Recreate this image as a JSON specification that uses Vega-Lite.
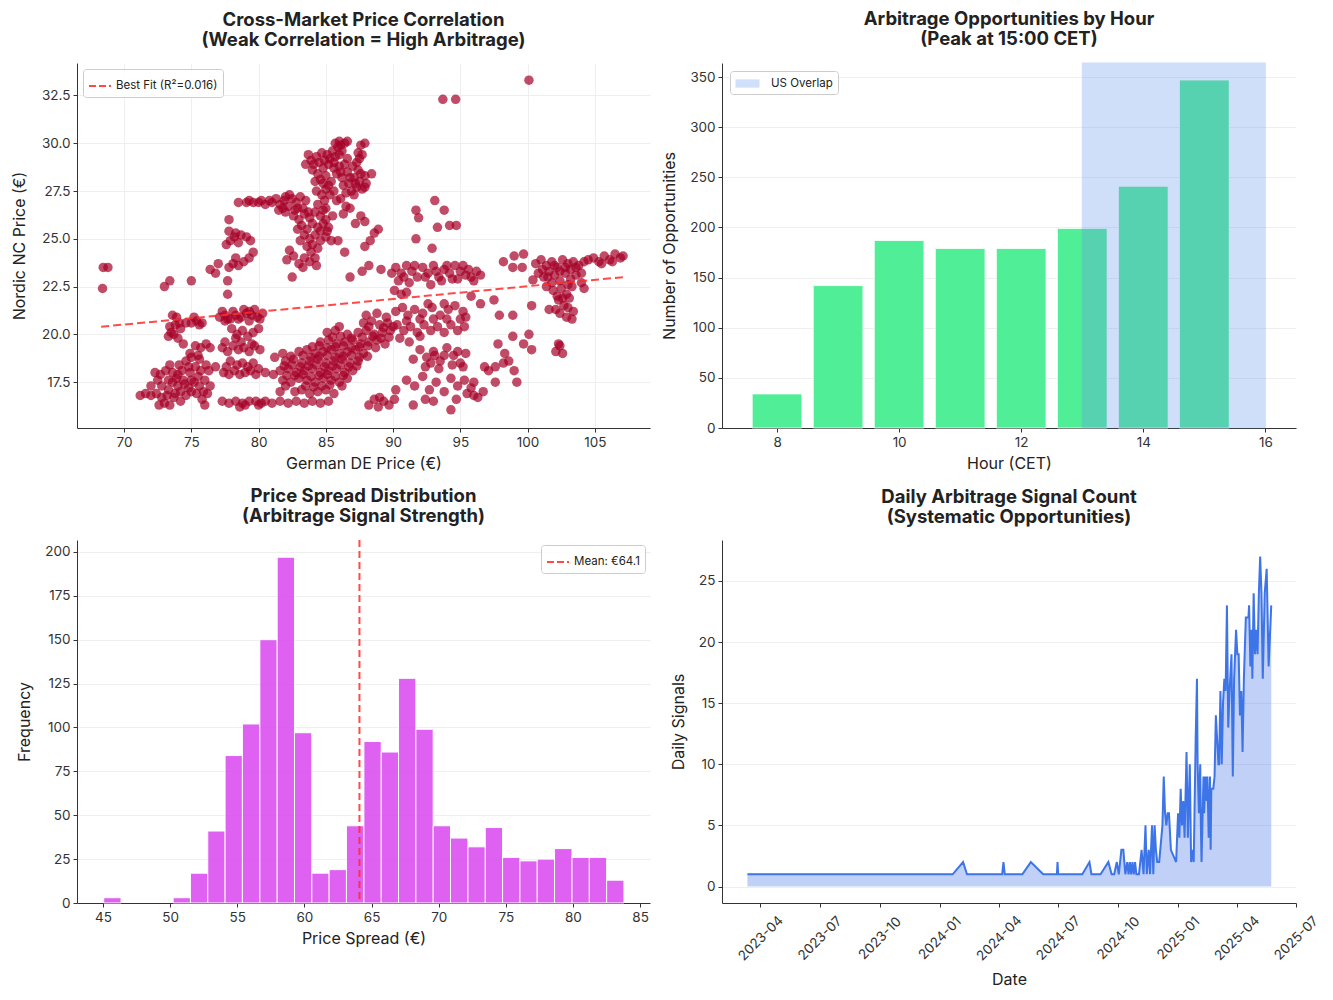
{
  "$schema": "https://vega.github.io/schema/vega-lite/v6.json",
  "background": "white",
  "padding": {"left": 11, "top": 10, "right": 10, "bottom": 5},
  "columns": 2,
  "bounds": "flush",
  "spacing": {"row": 112, "column": 72},
  "resolve": {"scale": {"color": "independent"}, "legend": {"color": "independent"}},
  "config": {
    "font": "Inter",
    "view": {"stroke": null},
    "axis": {
      "labelFont": "Inter", "titleFont": "Inter",
      "labelFontSize": 13.5, "titleFontSize": 16, "titleFontWeight": "normal",
      "labelColor": "#333333", "titleColor": "#222222",
      "domainColor": "#333333", "tickColor": "#333333",
      "tickSize": 4, "labelPadding": 3, "domainWidth": 1, "tickWidth": 1,
      "gridColor": "#ebebeb", "gridWidth": 0.8, "grid": false
    },
    "axisX": {"titlePadding": 7},
    "axisY": {"titlePadding": 12},
    "title": {"font": "Inter", "fontSize": 18.5, "fontWeight": "bold", "color": "#222222", "anchor": "middle", "frame": "group", "offset": 14, "lineHeight": 20},
    "legend": {"labelFont": "Inter", "labelFontSize": 11.5, "labelColor": "#222222", "strokeColor": "#cccccc", "fillColor": "rgba(255,255,255,0.85)", "cornerRadius": 3, "padding": 5, "offset": 6}
  },
  "concat": [
    {
      "width": 573, "height": 365,
      "title": {"text": ["Cross-Market Price Correlation", "(Weak Correlation = High Arbitrage)"]},
      "layer": [
        {
          "data": {"values": [
            {"de":68.45,"nc":23.5},{"de":68.8,"nc":23.5},{"de":68.4,"nc":22.4},{"de":93.7,"nc":32.3},{"de":94.65,"nc":32.3},{"de":100.1,"nc":33.3},
            {"de":71.2,"nc":16.8},{"de":71.6,"nc":16.9},{"de":72.0,"nc":16.8},{"de":72.4,"nc":16.9},{"de":72.8,"nc":16.7},{"de":73.2,"nc":16.8},{"de":72.6,"nc":16.3},{"de":73.0,"nc":16.4},{"de":73.4,"nc":16.3},{"de":72.3,"nc":18.0},{"de":72.7,"nc":17.9},{"de":73.1,"nc":18.1},{"de":73.6,"nc":18.0},{"de":74.0,"nc":17.9},{"de":74.3,"nc":18.1},{"de":73.6,"nc":17.5},{"de":74.0,"nc":17.3},{"de":74.4,"nc":17.6},{"de":74.8,"nc":17.2},{"de":75.2,"nc":17.5},{"de":75.6,"nc":17.3},{"de":76.0,"nc":17.6},{"de":74.2,"nc":17.0},{"de":74.6,"nc":16.8},{"de":75.0,"nc":17.0},{"de":75.4,"nc":16.9},{"de":75.8,"nc":16.6},{"de":76.2,"nc":16.9},{"de":73.8,"nc":16.9},{"de":74.9,"nc":18.0},{"de":75.3,"nc":18.3},{"de":75.7,"nc":18.1},{"de":76.1,"nc":18.4},{"de":74.6,"nc":18.6},{"de":75.0,"nc":18.8},{"de":75.6,"nc":18.7},{"de":76.4,"nc":17.3},{"de":76.8,"nc":18.3},{"de":76.0,"nc":16.3},{"de":73.9,"nc":17.7},{"de":75.5,"nc":17.8},{"de":72.8,"nc":17.3},{"de":73.3,"nc":17.6},{"de":73.7,"nc":16.7},{"de":74.2,"nc":16.5},
            {"de":74.5,"nc":17.4},{"de":75.0,"nc":17.6},{"de":75.9,"nc":17.0},{"de":73.3,"nc":17.1},{"de":72.5,"nc":17.6},{"de":74.8,"nc":18.3},{"de":76.3,"nc":18.1},{"de":73.4,"nc":18.4},{"de":74.1,"nc":18.4},{"de":72.0,"nc":17.3},
            {"de":73.3,"nc":19.9},{"de":73.7,"nc":20.0},{"de":74.0,"nc":19.8},{"de":73.4,"nc":20.4},{"de":73.8,"nc":20.5},{"de":74.2,"nc":20.3},{"de":73.6,"nc":21.0},{"de":73.9,"nc":20.9},{"de":74.6,"nc":20.6},{"de":75.0,"nc":20.6},{"de":75.4,"nc":20.7},{"de":75.8,"nc":20.6},{"de":75.3,"nc":19.4},{"de":75.7,"nc":19.3},{"de":76.1,"nc":19.5},{"de":76.4,"nc":19.3},{"de":74.4,"nc":19.5},{"de":73.4,"nc":22.8},{"de":73.0,"nc":22.5},{"de":75.0,"nc":22.8},{"de":76.4,"nc":23.4},{"de":76.8,"nc":23.2},{"de":77.0,"nc":23.7},{"de":74.9,"nc":19.0},{"de":75.5,"nc":18.9},
            {"de":74.1,"nc":20.6},{"de":73.5,"nc":20.1},{"de":75.2,"nc":20.9},{"de":75.6,"nc":20.5},
            {"de":77.1,"nc":20.9},{"de":77.5,"nc":21.0},{"de":77.9,"nc":20.8},{"de":78.3,"nc":21.0},{"de":78.7,"nc":20.9},{"de":79.1,"nc":21.1},{"de":79.5,"nc":21.0},{"de":79.9,"nc":20.9},{"de":80.3,"nc":21.1},{"de":78.1,"nc":21.2},{"de":78.9,"nc":21.3},{"de":79.7,"nc":21.3},{"de":77.5,"nc":20.7},{"de":79.3,"nc":20.7},
            {"de":77.3,"nc":21.2},{"de":77.7,"nc":20.8},{"de":78.5,"nc":20.8},{"de":79.3,"nc":21.2},{"de":80.1,"nc":20.8},
            {"de":78.0,"nc":20.3},{"de":78.4,"nc":20.0},{"de":78.8,"nc":20.2},{"de":79.2,"nc":19.9},{"de":79.6,"nc":20.1},{"de":80.0,"nc":20.3},{"de":78.3,"nc":19.8},
            {"de":77.3,"nc":19.3},{"de":77.7,"nc":19.1},{"de":78.1,"nc":19.4},{"de":78.5,"nc":19.2},{"de":78.9,"nc":19.3},{"de":79.3,"nc":19.1},{"de":79.7,"nc":19.4},{"de":80.1,"nc":19.2},
            {"de":77.5,"nc":19.6},{"de":78.7,"nc":19.6},{"de":79.5,"nc":19.5},
            {"de":77.4,"nc":18.0},{"de":77.8,"nc":17.9},{"de":78.2,"nc":18.1},{"de":78.6,"nc":17.9},{"de":79.0,"nc":18.0},{"de":79.4,"nc":18.1},{"de":79.8,"nc":17.9},{"de":77.9,"nc":18.6},{"de":78.8,"nc":18.5},{"de":79.6,"nc":18.5},
            {"de":77.6,"nc":18.3},{"de":78.4,"nc":18.4},{"de":79.2,"nc":18.3},{"de":80.0,"nc":18.2},
            {"de":77.3,"nc":16.5},{"de":77.8,"nc":16.4},{"de":78.3,"nc":16.5},{"de":78.8,"nc":16.4},{"de":79.3,"nc":16.5},{"de":79.8,"nc":16.5},{"de":80.2,"nc":16.4},{"de":78.6,"nc":16.2},{"de":79.0,"nc":16.3},{"de":80.0,"nc":16.3},
            {"de":77.7,"nc":22.8},{"de":77.7,"nc":22.1},{"de":77.8,"nc":23.5},{"de":78.1,"nc":23.7},{"de":78.5,"nc":23.6},{"de":78.9,"nc":23.8},{"de":79.3,"nc":24.0},{"de":78.3,"nc":24.0},{"de":79.6,"nc":24.3},{"de":77.6,"nc":24.7},{"de":77.9,"nc":24.9},{"de":78.2,"nc":25.1},{"de":78.5,"nc":24.8},{"de":77.8,"nc":25.4},{"de":78.3,"nc":25.3},{"de":78.7,"nc":25.2},{"de":77.8,"nc":26.0},{"de":79.1,"nc":25.1},{"de":79.4,"nc":24.9},
            {"de":78.5,"nc":26.9},{"de":79.1,"nc":26.9},{"de":79.6,"nc":26.9},{"de":80.0,"nc":26.9},{"de":80.5,"nc":26.8},{"de":81.0,"nc":26.9},{"de":81.3,"nc":27.1},{"de":81.6,"nc":26.8},{"de":81.9,"nc":27.0},{"de":82.2,"nc":26.7},{"de":82.5,"nc":27.1},{"de":82.8,"nc":26.9},{"de":83.1,"nc":27.2},{"de":81.5,"nc":26.5},{"de":82.0,"nc":26.4},{"de":82.7,"nc":26.5},{"de":83.3,"nc":26.6},{"de":82.3,"nc":27.3},
            {"de":80.8,"nc":27.0},{"de":81.8,"nc":26.6},{"de":82.0,"nc":27.2},{"de":83.5,"nc":27.0},{"de":80.2,"nc":27.0},{"de":79.3,"nc":27.0},
            {"de":82.6,"nc":26.2},{"de":83.0,"nc":26.0},{"de":83.4,"nc":26.3},{"de":83.8,"nc":26.1},{"de":84.2,"nc":26.4},{"de":84.6,"nc":26.2},{"de":85.0,"nc":26.0},{"de":83.2,"nc":25.7},{"de":83.6,"nc":25.5},{"de":84.0,"nc":25.8},{"de":84.4,"nc":25.6},{"de":84.8,"nc":25.8},{"de":85.2,"nc":25.6},{"de":83.4,"nc":25.2},{"de":83.8,"nc":25.0},{"de":84.2,"nc":25.2},{"de":84.6,"nc":24.9},{"de":85.0,"nc":25.1},{"de":85.4,"nc":24.9},{"de":83.6,"nc":24.6},{"de":84.0,"nc":24.7},{"de":84.4,"nc":24.5},{"de":82.1,"nc":23.9},{"de":82.6,"nc":24.1},{"de":83.0,"nc":23.7},{"de":83.4,"nc":24.0},{"de":83.8,"nc":23.8},{"de":84.3,"nc":23.6},{"de":82.5,"nc":23.0},{"de":85.0,"nc":26.6},{"de":84.9,"nc":27.0},{"de":84.4,"nc":26.8},
            {"de":82.9,"nc":25.5},{"de":83.1,"nc":24.9},{"de":83.7,"nc":26.4},{"de":84.6,"nc":25.4},{"de":85.1,"nc":25.4},{"de":84.8,"nc":26.5},{"de":83.9,"nc":24.3},{"de":83.3,"nc":23.5},{"de":84.2,"nc":24.0},{"de":82.9,"nc":26.6},{"de":85.5,"nc":26.2},{"de":82.3,"nc":24.4},
            {"de":83.5,"nc":28.9},{"de":83.9,"nc":29.1},{"de":84.3,"nc":29.3},{"de":84.7,"nc":29.5},{"de":85.1,"nc":29.4},{"de":85.5,"nc":29.6},{"de":84.0,"nc":28.6},{"de":84.4,"nc":28.4},{"de":84.8,"nc":28.7},{"de":85.2,"nc":28.9},{"de":85.6,"nc":29.0},{"de":86.0,"nc":28.8},{"de":84.6,"nc":28.1},{"de":85.0,"nc":28.3},{"de":85.4,"nc":28.0},{"de":85.8,"nc":28.4},{"de":86.2,"nc":28.2},{"de":86.6,"nc":28.5},{"de":85.7,"nc":30.0},{"de":86.0,"nc":30.1},{"de":86.4,"nc":30.0},{"de":86.2,"nc":29.6},{"de":86.6,"nc":29.2},{"de":87.0,"nc":28.8},{"de":87.4,"nc":28.6},{"de":86.3,"nc":27.8},{"de":86.7,"nc":27.9},{"de":87.1,"nc":28.2},{"de":87.5,"nc":28.0},{"de":87.9,"nc":28.3},{"de":88.4,"nc":28.4},{"de":86.5,"nc":27.4},{"de":86.9,"nc":27.5},{"de":87.3,"nc":27.7},{"de":87.7,"nc":27.6},{"de":87.4,"nc":29.5},{"de":87.6,"nc":29.9},{"de":87.9,"nc":30.0},{"de":87.5,"nc":29.2},{"de":85.0,"nc":27.6},{"de":85.6,"nc":27.5},{"de":86.1,"nc":27.1},{"de":86.5,"nc":26.7},{"de":86.3,"nc":26.3},{"de":86.8,"nc":26.6},{"de":87.2,"nc":25.8},{"de":87.6,"nc":26.2},{"de":86.4,"nc":24.3},{"de":85.9,"nc":24.9},{"de":87.9,"nc":25.9},{"de":88.6,"nc":25.3},{"de":88.3,"nc":24.9},{"de":88.9,"nc":25.5},{"de":87.9,"nc":24.6},{"de":86.8,"nc":23.0},{"de":87.7,"nc":23.3},{"de":88.2,"nc":23.6},{"de":89.1,"nc":23.4},{"de":89.9,"nc":23.2},
            {"de":83.7,"nc":29.4},{"de":84.1,"nc":28.9},{"de":84.5,"nc":29.0},{"de":84.9,"nc":29.1},{"de":85.3,"nc":29.2},{"de":85.7,"nc":29.3},{"de":86.0,"nc":29.4},{"de":84.2,"nc":28.0},{"de":84.8,"nc":27.9},{"de":85.2,"nc":27.8},{"de":85.6,"nc":28.7},{"de":86.1,"nc":28.5},{"de":86.4,"nc":28.9},{"de":86.8,"nc":28.2},{"de":87.2,"nc":27.9},{"de":87.6,"nc":28.4},{"de":88.0,"nc":27.9},{"de":86.1,"nc":29.9},{"de":86.6,"nc":30.1},{"de":85.9,"nc":29.8},{"de":87.3,"nc":29.0},{"de":87.7,"nc":29.4},{"de":87.1,"nc":27.3},{"de":87.9,"nc":27.7},{"de":84.3,"nc":27.5},{"de":84.7,"nc":27.3},{"de":85.3,"nc":27.3},{"de":85.8,"nc":27.0},
            {"de":81.8,"nc":17.6},{"de":82.4,"nc":17.5},{"de":83.0,"nc":17.7},{"de":83.6,"nc":17.6},{"de":84.2,"nc":17.5},{"de":84.8,"nc":17.7},{"de":85.4,"nc":17.6},{"de":86.0,"nc":17.5},{"de":86.6,"nc":17.7},
            {"de":81.6,"nc":18.1},{"de":82.2,"nc":18.2},{"de":82.8,"nc":18.0},{"de":83.4,"nc":18.1},{"de":84.0,"nc":18.2},{"de":84.6,"nc":18.0},{"de":85.2,"nc":18.1},{"de":85.8,"nc":18.2},{"de":86.4,"nc":18.0},{"de":87.0,"nc":18.1},
            {"de":82.0,"nc":18.6},{"de":82.6,"nc":18.7},{"de":83.2,"nc":18.5},{"de":83.8,"nc":18.6},{"de":84.4,"nc":18.7},{"de":85.0,"nc":18.5},{"de":85.6,"nc":18.6},{"de":86.2,"nc":18.7},{"de":86.8,"nc":18.5},{"de":87.4,"nc":18.6},
            {"de":83.0,"nc":19.1},{"de":83.6,"nc":19.2},{"de":84.2,"nc":19.0},{"de":84.8,"nc":19.1},{"de":85.4,"nc":19.2},{"de":86.0,"nc":19.0},{"de":86.6,"nc":19.1},{"de":87.2,"nc":19.2},{"de":87.8,"nc":19.0},
            {"de":84.6,"nc":19.6},{"de":85.2,"nc":19.7},{"de":85.8,"nc":19.5},{"de":86.4,"nc":19.6},{"de":87.0,"nc":19.7},{"de":87.6,"nc":19.5},{"de":88.2,"nc":19.6},{"de":88.8,"nc":19.7},{"de":89.4,"nc":19.5},
            {"de":85.1,"nc":20.1},{"de":85.7,"nc":20.2},{"de":86.6,"nc":20.0},{"de":87.4,"nc":20.1},{"de":88.0,"nc":20.2},{"de":88.6,"nc":20.0},{"de":89.2,"nc":20.1},{"de":89.8,"nc":20.2},
            {"de":87.8,"nc":20.6},{"de":88.4,"nc":20.7},{"de":89.0,"nc":20.5},{"de":89.6,"nc":20.6},{"de":88.0,"nc":21.0},{"de":88.8,"nc":21.1},{"de":89.5,"nc":20.9},
            {"de":82.1,"nc":17.85},{"de":82.7,"nc":17.85},{"de":83.3,"nc":17.9},{"de":83.9,"nc":17.8},{"de":84.5,"nc":17.85},{"de":85.1,"nc":17.9},{"de":85.7,"nc":17.8},{"de":86.3,"nc":17.85},
            {"de":81.9,"nc":18.35},{"de":82.5,"nc":18.4},{"de":83.1,"nc":18.3},{"de":83.7,"nc":18.35},{"de":84.3,"nc":18.4},{"de":84.9,"nc":18.3},{"de":85.5,"nc":18.35},{"de":86.1,"nc":18.4},{"de":86.7,"nc":18.3},{"de":87.3,"nc":18.35},
            {"de":82.4,"nc":18.85},{"de":83.3,"nc":18.9},{"de":83.9,"nc":18.8},{"de":84.5,"nc":18.85},{"de":85.1,"nc":18.9},{"de":85.7,"nc":18.8},{"de":86.3,"nc":18.85},{"de":86.9,"nc":18.9},{"de":87.5,"nc":18.8},{"de":88.1,"nc":18.85},
            {"de":84.0,"nc":19.35},{"de":84.5,"nc":19.4},{"de":85.1,"nc":19.3},{"de":85.7,"nc":19.35},{"de":86.3,"nc":19.4},{"de":86.9,"nc":19.3},{"de":87.5,"nc":19.35},{"de":88.1,"nc":19.4},{"de":88.7,"nc":19.3},
            {"de":85.5,"nc":19.85},{"de":86.1,"nc":19.9},{"de":86.9,"nc":19.8},{"de":87.7,"nc":19.85},{"de":88.5,"nc":19.9},{"de":89.1,"nc":19.8},{"de":89.7,"nc":19.85},
            {"de":82.0,"nc":17.3},{"de":83.5,"nc":17.3},{"de":84.1,"nc":17.25},{"de":84.7,"nc":17.3},{"de":85.3,"nc":17.35},{"de":86.2,"nc":17.3},
            {"de":86.0,"nc":20.4},{"de":88.2,"nc":20.4},{"de":89.3,"nc":20.35},{"de":90.0,"nc":20.4},
            {"de":82.7,"nc":17.0},{"de":83.2,"nc":17.1},{"de":83.8,"nc":16.9},{"de":84.4,"nc":17.0},{"de":85.0,"nc":17.1},{"de":85.6,"nc":16.9},
            {"de":80.5,"nc":16.5},{"de":81.0,"nc":16.4},{"de":81.6,"nc":16.5},{"de":82.2,"nc":16.4},{"de":82.8,"nc":16.5},{"de":83.4,"nc":16.4},{"de":84.0,"nc":16.5},{"de":84.6,"nc":16.4},{"de":85.2,"nc":16.5},
            {"de":80.5,"nc":18.0},{"de":81.1,"nc":17.9},{"de":81.6,"nc":17.0},{"de":81.2,"nc":18.8},{"de":81.8,"nc":19.0},
            {"de":88.2,"nc":16.3},{"de":88.6,"nc":16.6},{"de":88.9,"nc":16.2},{"de":89.3,"nc":16.5},{"de":89.7,"nc":16.3},{"de":90.1,"nc":16.6},{"de":90.2,"nc":17.1},{"de":89.0,"nc":16.7},
            {"de":93.1,"nc":27.0},{"de":93.8,"nc":26.5},{"de":91.7,"nc":26.5},{"de":91.9,"nc":26.1},{"de":93.3,"nc":25.6},{"de":94.2,"nc":25.7},{"de":94.7,"nc":25.7},{"de":91.7,"nc":25.0},{"de":92.9,"nc":24.5},
            {"de":90.2,"nc":23.5},{"de":90.6,"nc":23.2},{"de":91.0,"nc":23.6},{"de":91.4,"nc":23.3},{"de":91.8,"nc":23.0},{"de":92.2,"nc":23.5},{"de":92.6,"nc":23.2},{"de":93.0,"nc":23.6},{"de":93.4,"nc":23.0},{"de":93.8,"nc":23.4},{"de":94.2,"nc":23.2},{"de":94.6,"nc":23.6},{"de":95.0,"nc":23.3},{"de":95.4,"nc":23.1},{"de":95.8,"nc":23.0},{"de":96.2,"nc":23.3},{"de":96.5,"nc":23.1},{"de":90.4,"nc":22.8},{"de":91.2,"nc":22.7},{"de":92.8,"nc":22.6},{"de":93.6,"nc":22.8},{"de":94.8,"nc":22.9},{"de":90.1,"nc":22.3},{"de":90.6,"nc":22.1},{"de":91.0,"nc":22.2},
            {"de":90.8,"nc":23.0},{"de":91.6,"nc":23.6},{"de":92.4,"nc":23.0},{"de":93.2,"nc":23.3},{"de":94.0,"nc":23.6},{"de":94.4,"nc":22.9},{"de":95.2,"nc":23.6},{"de":95.6,"nc":23.4},{"de":96.0,"nc":22.8},
            {"de":90.2,"nc":21.2},{"de":90.7,"nc":21.4},{"de":91.1,"nc":21.0},{"de":91.6,"nc":21.3},{"de":92.2,"nc":21.1},{"de":92.9,"nc":21.4},{"de":93.5,"nc":21.0},{"de":94.1,"nc":21.3},{"de":94.6,"nc":21.5},{"de":95.2,"nc":21.2},{"de":95.4,"nc":20.9},{"de":90.3,"nc":20.5},{"de":90.8,"nc":20.2},{"de":91.3,"nc":20.4},{"de":91.8,"nc":20.1},{"de":92.3,"nc":20.5},{"de":92.8,"nc":20.2},{"de":93.3,"nc":20.4},{"de":93.8,"nc":20.1},{"de":94.3,"nc":20.5},{"de":94.8,"nc":20.2},{"de":95.3,"nc":20.4},{"de":90.5,"nc":19.8},{"de":91.2,"nc":19.6},{"de":92.0,"nc":19.9},
            {"de":91.0,"nc":20.7},{"de":92.0,"nc":20.8},{"de":93.0,"nc":20.8},{"de":94.0,"nc":20.8},{"de":95.0,"nc":20.8},{"de":92.6,"nc":21.6},{"de":93.8,"nc":21.6},
            {"de":92.0,"nc":19.2},{"de":92.5,"nc":18.8},{"de":93.0,"nc":19.1},{"de":93.5,"nc":18.6},{"de":94.0,"nc":19.3},{"de":94.5,"nc":18.9},{"de":95.0,"nc":18.5},{"de":95.4,"nc":19.0},{"de":92.4,"nc":18.3},{"de":93.4,"nc":18.2},{"de":94.4,"nc":18.4},{"de":91.5,"nc":18.7},
            {"de":92.8,"nc":18.5},{"de":93.8,"nc":18.9},{"de":94.8,"nc":19.1},{"de":95.2,"nc":18.3},{"de":93.1,"nc":18.9},
            {"de":91.0,"nc":17.6},{"de":91.6,"nc":17.3},{"de":92.2,"nc":17.8},{"de":92.7,"nc":17.1},{"de":93.2,"nc":17.5},{"de":93.8,"nc":17.0},{"de":94.3,"nc":17.7},{"de":94.8,"nc":17.3},{"de":95.3,"nc":17.6},{"de":95.8,"nc":17.2},{"de":96.0,"nc":16.8},{"de":96.0,"nc":17.5},{"de":92.4,"nc":16.6},{"de":91.5,"nc":16.3},{"de":93.0,"nc":16.5},{"de":94.3,"nc":16.05},{"de":95.5,"nc":16.9},{"de":94.7,"nc":16.6},
            {"de":96.8,"nc":18.3},{"de":97.1,"nc":18.1},{"de":97.6,"nc":18.3},{"de":98.2,"nc":18.5},{"de":98.6,"nc":18.6},{"de":99.0,"nc":18.1},{"de":99.2,"nc":17.5},{"de":97.6,"nc":17.5},{"de":97.8,"nc":19.5},{"de":98.3,"nc":19.0},{"de":98.9,"nc":19.9},{"de":99.7,"nc":19.5},{"de":100.1,"nc":20.0},{"de":100.3,"nc":19.2},{"de":96.5,"nc":21.6},{"de":97.5,"nc":21.8},{"de":97.9,"nc":21.0},{"de":98.9,"nc":21.0},{"de":100.3,"nc":21.5},{"de":95.8,"nc":22.0},{"de":98.2,"nc":23.8},{"de":99.0,"nc":24.1},{"de":99.7,"nc":24.2},{"de":98.9,"nc":23.5},{"de":99.6,"nc":23.5},{"de":96.3,"nc":16.7},{"de":96.7,"nc":17.0},
            {"de":100.6,"nc":23.7},{"de":101.0,"nc":23.9},{"de":101.4,"nc":23.6},{"de":101.8,"nc":23.8},{"de":102.2,"nc":23.5},{"de":102.6,"nc":23.9},{"de":103.0,"nc":23.7},{"de":103.4,"nc":23.8},{"de":103.8,"nc":23.6},{"de":104.2,"nc":23.8},{"de":100.8,"nc":23.2},{"de":101.2,"nc":23.0},{"de":101.6,"nc":23.3},{"de":102.0,"nc":23.1},{"de":102.4,"nc":22.8},{"de":102.8,"nc":23.2},{"de":103.2,"nc":22.9},{"de":103.6,"nc":23.1},{"de":104.0,"nc":22.7},{"de":101.4,"nc":22.5},{"de":101.9,"nc":22.3},{"de":102.5,"nc":22.4},{"de":102.9,"nc":22.1},{"de":103.3,"nc":22.5},{"de":104.2,"nc":22.4},{"de":100.4,"nc":22.85},{"de":102.3,"nc":21.8},{"de":102.7,"nc":21.5},{"de":103.1,"nc":21.9},{"de":103.4,"nc":21.2},{"de":102.1,"nc":21.3},{"de":101.6,"nc":21.3},{"de":102.9,"nc":20.9},{"de":103.3,"nc":20.8},{"de":102.1,"nc":19.1},{"de":102.4,"nc":19.4},{"de":102.6,"nc":19.0},{"de":102.3,"nc":19.5},
            {"de":101.1,"nc":23.4},{"de":101.5,"nc":23.0},{"de":102.0,"nc":23.6},{"de":102.4,"nc":23.3},{"de":102.8,"nc":23.5},{"de":103.2,"nc":23.4},{"de":103.6,"nc":23.5},{"de":104.0,"nc":23.2},{"de":103.0,"nc":22.6},{"de":102.2,"nc":22.0},{"de":102.6,"nc":21.9},{"de":103.0,"nc":21.4},{"de":102.4,"nc":21.1},{"de":104.5,"nc":23.9},{"de":101.8,"nc":22.7},
            {"de":104.9,"nc":24.0},{"de":105.3,"nc":23.8},{"de":105.7,"nc":24.1},{"de":106.1,"nc":23.9},{"de":106.5,"nc":24.2},{"de":106.9,"nc":24.0},{"de":107.1,"nc":24.1},{"de":105.5,"nc":23.7},{"de":106.3,"nc":23.8}
          ]},
          "mark": {"type": "point", "filled": true, "size": 90, "opacity": 0.7, "color": "#a50026", "strokeWidth": 0},
          "encoding": {
            "x": {"field": "de", "type": "quantitative", "scale": {"domain": [66.5, 109.1], "nice": false, "zero": false},
                  "axis": {"title": "German DE Price (€)", "values": [70, 75, 80, 85, 90, 95, 100, 105], "grid": true}},
            "y": {"field": "nc", "type": "quantitative", "scale": {"domain": [15.1, 34.2], "nice": false, "zero": false},
                  "axis": {"title": "Nordic NC Price (€)", "values": [17.5, 20, 22.5, 25, 27.5, 30, 32.5], "format": ".1f", "grid": true, "titlePadding": 14}}
          }
        },
        {
          "data": {"values": [
            {"de": 68.3, "nc": 20.4, "fit": "Best Fit (R²=0.016)"},
            {"de": 107.2, "nc": 23.0, "fit": "Best Fit (R²=0.016)"}
          ]},
          "mark": {"type": "line", "strokeDash": [8, 4], "strokeWidth": 2, "opacity": 0.85},
          "encoding": {
            "x": {"field": "de", "type": "quantitative"},
            "y": {"field": "nc", "type": "quantitative"},
            "color": {"field": "fit", "type": "nominal", "scale": {"range": ["#ff2a2a"]},
                      "legend": {"orient": "top-left", "title": null, "symbolType": "stroke", "symbolDash": [7, 3], "symbolStrokeWidth": 2, "symbolSize": 484, "symbolOpacity": 0.85}}
          }
        }
      ]
    },
    {
      "width": 574, "height": 365,
      "title": {"text": ["Arbitrage Opportunities by Hour", "(Peak at 15:00 CET)"]},
      "layer": [
        {
          "data": {"values": [
            {"hour": 8, "count": 34}, {"hour": 9, "count": 142}, {"hour": 10, "count": 187}, {"hour": 11, "count": 179},
            {"hour": 12, "count": 179}, {"hour": 13, "count": 199}, {"hour": 14, "count": 241}, {"hour": 15, "count": 347}
          ]},
          "mark": {"type": "bar", "width": 49.7, "color": "#50ee96", "stroke": "white", "strokeWidth": 0.8},
          "encoding": {
            "x": {"field": "hour", "type": "quantitative", "scale": {"domain": [7.18, 16.42], "nice": false, "zero": false},
                  "axis": {"title": "Hour (CET)", "values": [8, 10, 12, 14, 16], "format": "d"}},
            "y": {"field": "count", "type": "quantitative", "scale": {"domain": [0, 364], "nice": false},
                  "axis": {"title": "Number of Opportunities", "values": [0, 50, 100, 150, 200, 250, 300, 350], "grid": true}}
          }
        },
        {
          "data": {"values": [{"start": 13, "end": 16, "zone": "US Overlap"}]},
          "mark": {"type": "rect", "opacity": 0.3, "stroke": "#6495ED", "strokeWidth": 1},
          "encoding": {
            "x": {"field": "start", "type": "quantitative"},
            "x2": {"field": "end"},
            "color": {"field": "zone", "type": "nominal", "scale": {"range": ["#6495ED"]},
                      "legend": {"orient": "top-left", "title": null, "symbolType": "M-1.6,-0.55H1.6V0.55H-1.6Z", "symbolSize": 225, "symbolOpacity": 0.3, "symbolStrokeWidth": 0, "symbolOffset": 5, "labelOffset": 16, "offset": 8}}
          }
        }
      ]
    },
    {
      "width": 573, "height": 363,
      "title": {"text": ["Price Spread Distribution", "(Arbitrage Signal Strength)"]},
      "layer": [
        {
          "data": {"values": [
            {"lo":45.05,"hi":46.34,"n":3},{"lo":50.22,"hi":51.51,"n":3},{"lo":51.51,"hi":52.80,"n":17},{"lo":52.80,"hi":54.09,"n":41},
            {"lo":54.09,"hi":55.38,"n":84},{"lo":55.38,"hi":56.68,"n":102},{"lo":56.68,"hi":57.97,"n":150},{"lo":57.97,"hi":59.26,"n":197},
            {"lo":59.26,"hi":60.55,"n":97},{"lo":60.55,"hi":61.84,"n":17},{"lo":61.84,"hi":63.13,"n":19},{"lo":63.13,"hi":64.43,"n":44},
            {"lo":64.43,"hi":65.72,"n":92},{"lo":65.72,"hi":67.01,"n":86},{"lo":67.01,"hi":68.30,"n":128},{"lo":68.30,"hi":69.59,"n":99},
            {"lo":69.59,"hi":70.88,"n":44},{"lo":70.88,"hi":72.18,"n":37},{"lo":72.18,"hi":73.47,"n":32},{"lo":73.47,"hi":74.76,"n":43},
            {"lo":74.76,"hi":76.05,"n":26},{"lo":76.05,"hi":77.34,"n":24},{"lo":77.34,"hi":78.63,"n":25},{"lo":78.63,"hi":79.93,"n":31},
            {"lo":79.93,"hi":81.22,"n":26},{"lo":81.22,"hi":82.51,"n":26},{"lo":82.51,"hi":83.80,"n":13}
          ]},
          "mark": {"type": "bar", "color": "#d946ef", "opacity": 0.85, "stroke": "white", "strokeWidth": 1},
          "encoding": {
            "x": {"field": "lo", "type": "quantitative", "scale": {"domain": [43.06, 85.74], "nice": false, "zero": false},
                  "axis": {"title": "Price Spread (€)", "values": [45, 50, 55, 60, 65, 70, 75, 80, 85]}},
            "x2": {"field": "hi"},
            "y": {"field": "n", "type": "quantitative", "scale": {"domain": [0, 206.8], "nice": false},
                  "axis": {"title": "Frequency", "values": [0, 25, 50, 75, 100, 125, 150, 175, 200], "grid": true}},
            "y2": {"datum": 0}
          }
        },
        {
          "data": {"values": [{"mean": 64.1, "label": "Mean: €64.1"}]},
          "mark": {"type": "rule", "strokeDash": [7, 4], "strokeWidth": 2, "opacity": 0.85},
          "encoding": {
            "x": {"field": "mean", "type": "quantitative"},
            "color": {"field": "label", "type": "nominal", "scale": {"range": ["#ff2a2a"]},
                      "legend": {"orient": "top-right", "title": null, "symbolType": "stroke", "symbolDash": [7, 3], "symbolStrokeWidth": 2, "symbolSize": 484, "symbolOpacity": 0.85, "offset": 5}}
          }
        }
      ]
    },
    {
      "width": 574, "height": 363,
      "title": {"text": ["Daily Arbitrage Signal Count", "(Systematic Opportunities)"]},
      "data": {"values": [
        {"date":"2023-03-12","n":1},{"date":"2024-01-21","n":1},{"date":"2024-02-06","n":2},{"date":"2024-02-12","n":1},{"date":"2024-04-06","n":1},{"date":"2024-04-08","n":2},{"date":"2024-04-10","n":1},{"date":"2024-05-07","n":1},{"date":"2024-05-20","n":2},{"date":"2024-06-08","n":1},{"date":"2024-06-29","n":1},{"date":"2024-06-30","n":2},{"date":"2024-07-01","n":1},{"date":"2024-08-07","n":1},{"date":"2024-08-18","n":2},{"date":"2024-08-21","n":1},{"date":"2024-09-04","n":1},{"date":"2024-09-16","n":2},{"date":"2024-09-21","n":1},
        {"date":"2024-09-25","n":1},{"date":"2024-09-29","n":2},{"date":"2024-10-02","n":1},{"date":"2024-10-06","n":3},{"date":"2024-10-09","n":3},{"date":"2024-10-12","n":1},{"date":"2024-10-15","n":2},{"date":"2024-10-17","n":1},{"date":"2024-10-19","n":2},{"date":"2024-10-21","n":1},{"date":"2024-10-23","n":2},{"date":"2024-10-25","n":1},{"date":"2024-10-27","n":2},{"date":"2024-10-29","n":1},{"date":"2024-11-02","n":1},{"date":"2024-11-06","n":3},{"date":"2024-11-09","n":1},{"date":"2024-11-12","n":5},{"date":"2024-11-14","n":1},{"date":"2024-11-17","n":3},{"date":"2024-11-19","n":1},{"date":"2024-11-22","n":5},{"date":"2024-11-24","n":1},{"date":"2024-11-26","n":5},{"date":"2024-11-28","n":3},{"date":"2024-11-30","n":2},{"date":"2024-12-03","n":2},
        {"date":"2024-12-08","n":5},{"date":"2024-12-10","n":9},{"date":"2024-12-12","n":6},{"date":"2024-12-14","n":5},{"date":"2024-12-16","n":6},{"date":"2024-12-18","n":6},{"date":"2024-12-21","n":3},{"date":"2024-12-29","n":2},{"date":"2025-01-01","n":6},{"date":"2025-01-03","n":4},{"date":"2025-01-05","n":8},{"date":"2025-01-07","n":5},{"date":"2025-01-09","n":7},{"date":"2025-01-11","n":4},{"date":"2025-01-14","n":11},{"date":"2025-01-16","n":4},{"date":"2025-01-19","n":10},{"date":"2025-01-21","n":2},{"date":"2025-01-23","n":3},{"date":"2025-01-25","n":2},{"date":"2025-01-28","n":12},{"date":"2025-01-30","n":17},{"date":"2025-01-31","n":10},
        {"date":"2025-02-02","n":6},{"date":"2025-02-04","n":10},{"date":"2025-02-05","n":5},{"date":"2025-02-06","n":2},{"date":"2025-02-09","n":9},{"date":"2025-02-10","n":6},{"date":"2025-02-12","n":9},{"date":"2025-02-14","n":7},{"date":"2025-02-15","n":9},{"date":"2025-02-17","n":4},{"date":"2025-02-19","n":9},{"date":"2025-02-20","n":3},{"date":"2025-02-21","n":8},{"date":"2025-02-24","n":8},{"date":"2025-02-26","n":9},{"date":"2025-02-28","n":14},
        {"date":"2025-03-02","n":12},{"date":"2025-03-04","n":10},{"date":"2025-03-05","n":10},{"date":"2025-03-07","n":16},{"date":"2025-03-09","n":10},{"date":"2025-03-11","n":15},{"date":"2025-03-13","n":17},{"date":"2025-03-15","n":16},{"date":"2025-03-17","n":23},{"date":"2025-03-19","n":13},{"date":"2025-03-21","n":16},{"date":"2025-03-24","n":19},{"date":"2025-03-26","n":9},{"date":"2025-03-28","n":17},{"date":"2025-03-31","n":21},
        {"date":"2025-04-02","n":19},{"date":"2025-04-04","n":19},{"date":"2025-04-06","n":14},{"date":"2025-04-08","n":16},{"date":"2025-04-10","n":11},{"date":"2025-04-12","n":17},{"date":"2025-04-15","n":22},{"date":"2025-04-17","n":22},{"date":"2025-04-19","n":22},{"date":"2025-04-20","n":23},{"date":"2025-04-22","n":18},{"date":"2025-04-24","n":21},{"date":"2025-04-25","n":17},{"date":"2025-04-27","n":24},{"date":"2025-04-29","n":19},
        {"date":"2025-05-01","n":21},{"date":"2025-05-03","n":19},{"date":"2025-05-05","n":24},{"date":"2025-05-07","n":27},{"date":"2025-05-09","n":24},{"date":"2025-05-11","n":17},{"date":"2025-05-14","n":24},{"date":"2025-05-17","n":26},{"date":"2025-05-20","n":18},{"date":"2025-05-24","n":23}
      ]},
      "encoding": {
        "x": {"field": "date", "type": "temporal",
              "scale": {"type": "utc", "domain": [{"year": 2023, "month": 2, "date": 1, "utc": true}, {"year": 2025, "month": 7, "date": 1, "utc": true}]},
              "axis": {"title": "Date", "format": "%Y-%m", "labelAngle": -45, "labelAlign": "center", "labelBaseline": "middle", "labelPadding": 31, "titlePadding": 9,
                       "values": [
                         {"year": 2023, "month": 4, "date": 1, "utc": true}, {"year": 2023, "month": 7, "date": 1, "utc": true},
                         {"year": 2023, "month": 10, "date": 1, "utc": true}, {"year": 2024, "month": 1, "date": 1, "utc": true},
                         {"year": 2024, "month": 4, "date": 1, "utc": true}, {"year": 2024, "month": 7, "date": 1, "utc": true},
                         {"year": 2024, "month": 10, "date": 1, "utc": true}, {"year": 2025, "month": 1, "date": 1, "utc": true},
                         {"year": 2025, "month": 4, "date": 1, "utc": true}, {"year": 2025, "month": 7, "date": 1, "utc": true}
                       ]}},
        "y": {"field": "n", "type": "quantitative", "scale": {"domain": [-1.35, 28.35], "nice": false, "zero": false},
              "axis": {"title": "Daily Signals", "values": [0, 5, 10, 15, 20, 25], "grid": true}}
      },
      "layer": [
        {"mark": {"type": "area", "color": "#4a78e6", "opacity": 0.35}, "encoding": {"y2": {"datum": 0}}},
        {"mark": {"type": "line", "color": "#3d74e8", "strokeWidth": 2}}
      ]
    }
  ]
}
